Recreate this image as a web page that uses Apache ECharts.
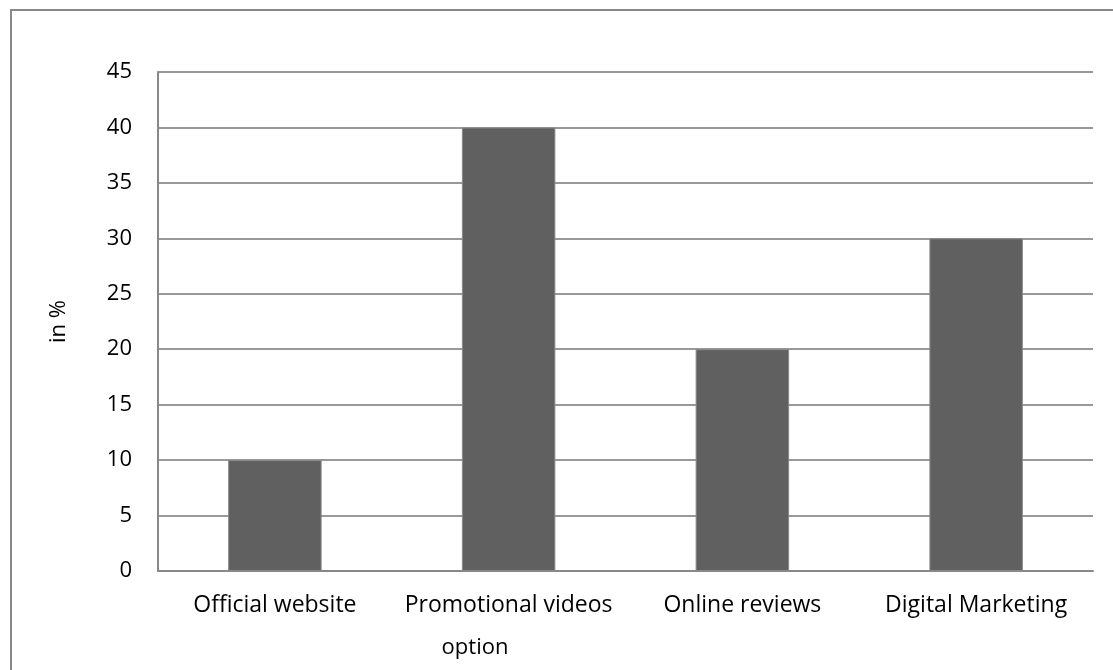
<!DOCTYPE html>
<html>
<head>
<meta charset="utf-8">
<style>
  html, body { margin: 0; padding: 0; background: #fff; }
  #chart { width: 1113px; height: 670px; }
</style>
<script src="https://cdn.jsdelivr.net/npm/echarts@6/dist/echarts.min.js"></script>
</head>
<body>
<div id="chart"></div>
<script>
const categories = ['Official website', 'Promotional videos', 'Online reviews', 'Digital Marketing']
const shares = [10, 40, 20, 30]
const yTicks = { min: 0, max: 45, interval: 5 }

const FONT = 'Open Sans'
const chart = echarts.init(document.getElementById('chart'))

chart.setOption({
  animation: false,
  backgroundColor: '#fff',
  textStyle: { fontFamily: FONT },
  graphic: [
    {
      type: 'rect',
      shape: { x: 11, y: 10, width: 1110, height: 680 },
      style: { fill: 'none', stroke: '#888', lineWidth: 2 },
      silent: true
    },
    {
      type: 'text',
      x: 475,
      y: 648,
      style: {
        text: 'option',
        font: '22px "Open Sans"',
        fill: '#000',
        align: 'center',
        verticalAlign: 'middle'
      }
    }
  ],
  grid: { left: 158, right: 20, top: 72, bottom: 99 },
  xAxis: {
    type: 'category',
    data: categories,
    axisLine: { lineStyle: { color: '#888', width: 2 } },
    axisTick: { show: false },
    axisLabel: {
      color: '#000',
      fontSize: 23,
      margin: 23,
      interval: 0,
      hideOverlap: false,
      fontFamily: FONT
    }
  },
  yAxis: {
    type: 'value',
    min: yTicks.min,
    max: yTicks.max,
    interval: yTicks.interval,
    name: 'in %',
    nameLocation: 'middle',
    nameGap: 88,
    nameTextStyle: { color: '#000', fontSize: 22, fontFamily: FONT },
    axisLine: { show: true, lineStyle: { color: '#888', width: 2 } },
    axisTick: { show: false },
    axisLabel: { color: '#000', fontSize: 22, margin: 26, fontFamily: FONT },
    splitLine: { lineStyle: { color: '#999', width: 2 } }
  },
  series: [
    {
      type: 'bar',
      data: shares,
      barWidth: '40%',
      itemStyle: { color: '#606060', borderColor: '#8a8a8a', borderWidth: 1 }
    }
  ]
})
</script>
</body>
</html>
